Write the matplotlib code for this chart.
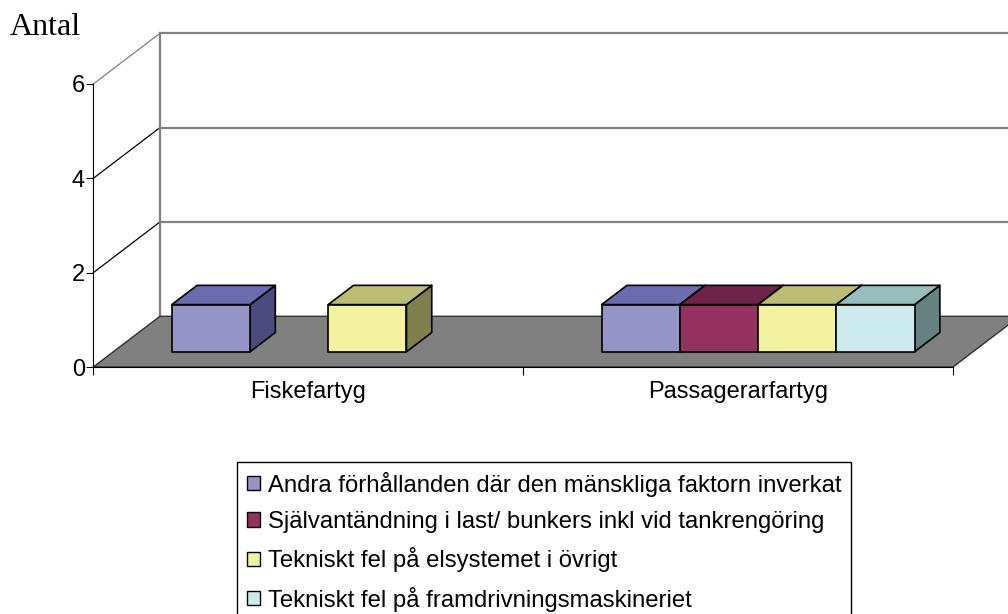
import matplotlib
matplotlib.use("Agg")
import matplotlib.pyplot as plt
from matplotlib.patches import Polygon, Patch

plt.rcParams["font.family"] = ["Liberation Sans", "DejaVu Sans"]

categories = ["Fiskefartyg", "Passagerarfartyg"]
series_names = [
    "Andra förhållanden där den mänskliga faktorn inverkat",
    "Självantändning i last/ bunkers inkl vid tankrengöring",
    "Tekniskt fel på elsystemet i övrigt",
    "Tekniskt fel på framdrivningsmaskineriet",
]
andra = [1, 1]
sjalvantandning = [0, 1]
elsystem = [1, 1]
framdrivning = [0, 1]
series_values = [andra, sjalvantandning, elsystem, framdrivning]
y_ticks = [0, 2, 4, 6]

front_colors = ["#9595C8", "#93325F", "#F3F29E", "#CDEBEF"]
top_colors = ["#6B6BB0", "#6E2348", "#BCBC72", "#96BEBB"]
side_colors = ["#4B4B80", "#4A1833", "#7F7F4C", "#64827F"]

# pseudo-3D geometry (depth of the floor, in data units)
DEPTH_X = 0.155
DEPTH_Y = 1.075
BAR_Z0, BAR_Z1 = 0.30, 0.68
GAP = 0.136
BAR_W = 0.182


def shift(x, y, z):
    return (x + z * DEPTH_X, y + z * DEPTH_Y)


fig = plt.figure(figsize=(10.08, 6.14), dpi=100)
ax = fig.add_axes([93.3 / 1008, (614 - 367) / 614, (953 - 93.3) / 1008, 283 / 614])
n_cat = len(categories)
ax.set_xlim(0, n_cat)
ax.set_ylim(0, max(y_ticks))
ax.patch.set_visible(False)

# back wall + gridlines
ymax = max(y_ticks)
ax.add_patch(Polygon([shift(0, 0, 1), shift(n_cat, 0, 1), shift(n_cat, ymax, 1), shift(0, ymax, 1)],
                     closed=True, facecolor="white", edgecolor="none", clip_on=False, zorder=0))
for v in y_ticks[1:]:
    xs, ys = zip(shift(0, v, 1), shift(n_cat, v, 1))
    ax.plot(xs, ys, color="#808080", lw=1.6, clip_on=False, zorder=1)
    xs, ys = zip((0, v), shift(0, v, 1))
    ax.plot(xs, ys, color="#808080" if v == ymax else "black", lw=0.9, clip_on=False, zorder=1)
xs, ys = zip(shift(0, 0, 1), shift(0, ymax, 1))
ax.plot(xs, ys, color="#808080", lw=1.6, clip_on=False, zorder=1)

# floor
ax.add_patch(Polygon([(0, 0), (n_cat, 0), shift(n_cat, 0, 1), shift(0, 0, 1)],
                     closed=True, facecolor="#808080", edgecolor="#303030", lw=1.0,
                     clip_on=False, zorder=2))

# bars, left to right so neighbours hide the side faces
for c in range(n_cat):
    for s, vals in enumerate(series_values):
        v = vals[c]
        if v == 0:
            continue
        x0 = c + GAP + s * BAR_W
        x1 = x0 + BAR_W
        faces = [
            ([shift(x1, 0, BAR_Z0), shift(x1, 0, BAR_Z1), shift(x1, v, BAR_Z1), shift(x1, v, BAR_Z0)], side_colors[s]),
            ([shift(x0, v, BAR_Z0), shift(x1, v, BAR_Z0), shift(x1, v, BAR_Z1), shift(x0, v, BAR_Z1)], top_colors[s]),
            ([shift(x0, 0, BAR_Z0), shift(x1, 0, BAR_Z0), shift(x1, v, BAR_Z0), shift(x0, v, BAR_Z0)], front_colors[s]),
        ]
        for pts, col in faces:
            ax.add_patch(Polygon(pts, closed=True, facecolor=col, edgecolor="black",
                                 lw=1.2, joinstyle="round", clip_on=False, zorder=3))

# axes
for side in ["top", "right"]:
    ax.spines[side].set_visible(False)
ax.spines["left"].set_color("black")
ax.spines["bottom"].set_color("black")
ax.spines["left"].set_zorder(4)
ax.spines["bottom"].set_zorder(4)
ax.set_yticks(y_ticks)
ax.tick_params(axis="y", length=5, pad=1, labelsize=17, direction="out")
ax.set_xticks(range(n_cat + 1))
ax.set_xticklabels([])
ax.set_xticks([c + 0.5 for c in range(n_cat)], minor=True)
ax.set_xticklabels(categories, minor=True)
ax.tick_params(axis="x", which="major", length=6, direction="out")
ax.tick_params(axis="x", which="minor", length=0, pad=10, labelsize=17)

fig.text(10 / 1008, 1 - 35 / 614, "Antal", family=["Liberation Serif", "DejaVu Serif"],
         fontsize=23, va="baseline", ha="left")

handles = [Patch(facecolor=col, edgecolor="black", lw=1) for col in front_colors]
leg = fig.legend(handles, series_names, loc="upper left",
                 bbox_to_anchor=(237 / 1008, 1 - 462 / 614), borderaxespad=0,
                 fancybox=False, framealpha=1, edgecolor="black", fontsize=17.2,
                 handlelength=0.55, handleheight=0.55, handletextpad=0.35,
                 labelspacing=0.6, borderpad=0.4)
leg.get_frame().set_linewidth(1)

fig.savefig("out.png", dpi=100)
